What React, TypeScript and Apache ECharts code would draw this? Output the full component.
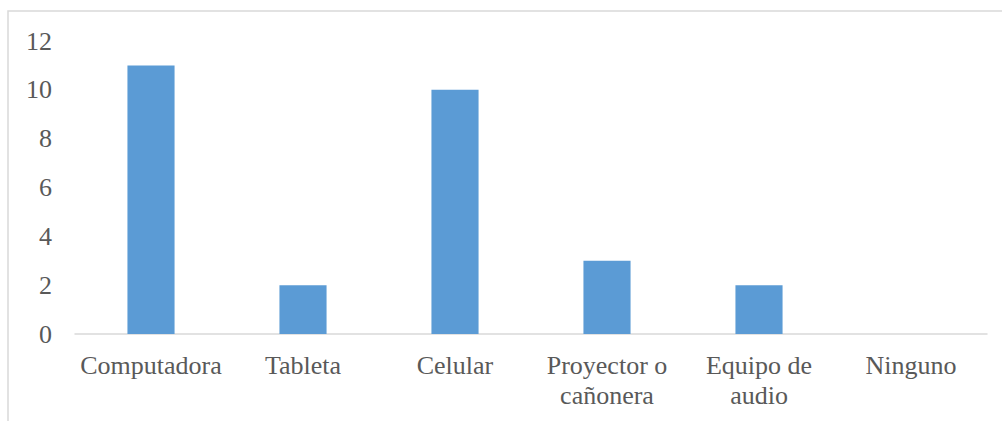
import React, { useEffect, useRef } from "react";
import * as echarts from "echarts";

const categories = [
  "Computadora",
  "Tableta",
  "Celular",
  "Proyector o\ncañonera",
  "Equipo de\naudio",
  "Ninguno",
];
const values = [11, 2, 10, 3, 2, 0];
const yTicks = { min: 0, max: 12, interval: 2 };

const FONT = "Liberation Serif";

export default function App() {
  const ref = useRef<HTMLDivElement>(null);
  useEffect(() => {
    if (!ref.current) return;
    const chart = echarts.init(ref.current, null, { renderer: "svg" });
    chart.setOption({
      animation: false,
      backgroundColor: "#ffffff",
      graphic: [
        {
          type: "rect",
          shape: { x: 8, y: 11, width: 1100, height: 500 },
          style: { fill: "none", stroke: "#D9D9D9", lineWidth: 1.5 },
          silent: true,
        },
      ],
      grid: { left: 75, right: 15, top: 41, bottom: 87 },
      xAxis: {
        type: "category",
        data: categories,
        axisLine: { lineStyle: { color: "#D9D9D9", width: 1.5 } },
        axisTick: { show: false },
        axisLabel: {
          color: "#595959",
          fontFamily: FONT,
          fontSize: 26,
          lineHeight: 30,
          margin: 16,
          interval: 0,
        },
      },
      yAxis: {
        type: "value",
        min: yTicks.min,
        max: yTicks.max,
        interval: yTicks.interval,
        splitLine: { show: false },
        axisLine: { show: false },
        axisTick: { show: false },
        axisLabel: {
          color: "#595959",
          fontFamily: FONT,
          fontSize: 26,
          margin: 23,
        },
      },
      series: [
        {
          type: "bar",
          data: values,
          barWidth: "31%",
          itemStyle: { color: "#5B9BD5" },
        },
      ],
    });
    return () => chart.dispose();
  }, []);
  return (
    <div
      ref={ref}
      style={{ position: "absolute", left: 0, top: 0, width: 1002, height: 421 }}
    />
  );
}
